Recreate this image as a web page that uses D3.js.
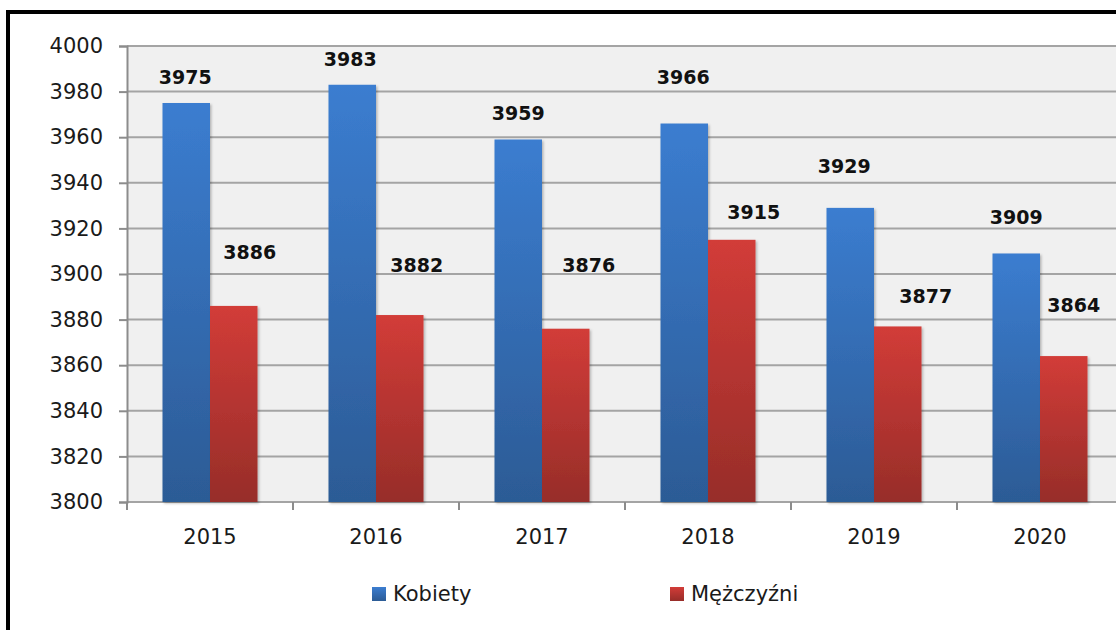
<!DOCTYPE html>
<html>
<head>
<meta charset="utf-8">
<script src="https://cdn.jsdelivr.net/npm/d3@7"></script>
<style>
  html, body { margin: 0; padding: 0; background: #fff; }
  svg { display: block; font-family: "DejaVu Sans", sans-serif; }
</style>
</head>
<body>
<svg id="chart" width="1116" height="630"></svg>
<script>
// data
const years = ['2015', '2016', '2017', '2018', '2019', '2020'];
const seriesNames = ['Kobiety', 'Mężczyźni'];
const kobiety = [3975, 3983, 3959, 3966, 3929, 3909];
const mezczyzni = [3886, 3882, 3876, 3915, 3877, 3864];
const yTicks = [3800, 3820, 3840, 3860, 3880, 3900, 3920, 3940, 3960, 3980, 4000];

// hand-placed label nudges (px), like the original chart
const labelNudge = [
  [[-1, -26], [-2, -26], [0, -26], [-1, -46], [-6, -42], [0, -36]],
  [[16, -54], [17, -50], [23, -64], [22, -28], [28, -30], [10, -51]]
];

const values = [kobiety, mezczyzni];
const colors = [
  { top: '#3b7dd0', bottom: '#2c5b95' },
  { top: '#d23c38', bottom: '#972d29' }
];

const svg = d3.select('#chart');
const plotLeft = 127, plotTop = 46, plotBottom = 502, step = 166;

// frame of the picture (extends past right/bottom edge)
svg.append('rect')
  .attr('x', 8).attr('y', 12)
  .attr('width', 1200).attr('height', 700)
  .attr('fill', 'none').attr('stroke', '#000').attr('stroke-width', 4);

const x = d3.scaleBand()
  .domain(years)
  .range([plotLeft, plotLeft + step * years.length])
  .padding(0);

const x1 = d3.scaleBand()
  .domain(seriesNames)
  .range([35.5, 130.5]);

const y = d3.scaleLinear()
  .domain([3800, 4000])
  .range([plotBottom, plotTop]);

// gradients
const defs = svg.append('defs');
colors.forEach(function (c, i) {
  let g = defs.append('linearGradient')
    .attr('id', 'grad' + i)
    .attr('x1', 0).attr('y1', 0).attr('x2', 0).attr('y2', 1);
  g.append('stop').attr('offset', '0%').attr('stop-color', c.top);
  g.append('stop').attr('offset', '100%').attr('stop-color', c.bottom);
});
let sh = defs.append('filter').attr('id', 'shadow')
  .attr('x', '-10%').attr('y', '-10%').attr('width', '130%').attr('height', '120%');
sh.append('feDropShadow')
  .attr('dx', 1.5).attr('dy', 1.5).attr('stdDeviation', 1.2)
  .attr('flood-color', '#000').attr('flood-opacity', 0.25);

// plot background
svg.append('rect')
  .attr('x', plotLeft).attr('y', plotTop)
  .attr('width', 1116 - plotLeft).attr('height', plotBottom - plotTop)
  .attr('fill', '#f0f0f0');

// y grid
svg.append('g').selectAll('line')
  .data(yTicks)
  .enter().append('line')
  .attr('x1', plotLeft).attr('x2', 1116)
  .attr('y1', function (d) { return y(d); })
  .attr('y2', function (d) { return y(d); })
  .attr('stroke', '#a4a4a4').attr('stroke-width', 2);

// y axis
const yAxis = svg.append('g')
  .attr('transform', 'translate(' + plotLeft + ',0)')
  .call(d3.axisLeft(y).tickValues(yTicks).tickFormat(d3.format('d')).tickSize(8).tickPadding(16));
yAxis.select('.domain').attr('stroke', '#8c8c8c').attr('stroke-width', 2);
yAxis.selectAll('.tick line').attr('stroke', '#8c8c8c').attr('stroke-width', 2);
yAxis.selectAll('.tick text')
  .attr('font-size', 21).attr('fill', '#1a1a1a')
  .attr('font-family', '"DejaVu Sans", sans-serif');

// x axis
const xAxis = svg.append('g')
  .attr('transform', 'translate(0,' + plotBottom + ')')
  .call(d3.axisBottom(x).tickSize(0).tickPadding(27));
xAxis.select('.domain').remove();
xAxis.selectAll('.tick text')
  .attr('font-size', 21).attr('fill', '#1a1a1a')
  .attr('font-family', '"DejaVu Sans", sans-serif');

svg.append('g').selectAll('line')
  .data(years)
  .enter().append('line')
  .attr('x1', function (d) { return x(d); })
  .attr('x2', function (d) { return x(d); })
  .attr('y1', plotBottom).attr('y2', plotBottom + 8)
  .attr('stroke', '#8c8c8c').attr('stroke-width', 2);

// bars
const groups = svg.append('g').selectAll('g')
  .data(years)
  .enter().append('g')
  .attr('transform', function (d) { return 'translate(' + x(d) + ',0)'; });

groups.selectAll('rect')
  .data(function (d, i) {
    return seriesNames.map(function (s, k) { return { s: s, k: k, v: values[k][i] }; });
  })
  .enter().append('rect')
  .attr('x', function (d) { return x1(d.s); })
  .attr('width', x1.bandwidth())
  .attr('y', function (d) { return y(d.v); })
  .attr('height', function (d) { return plotBottom - y(d.v); })
  .attr('fill', function (d) { return 'url(#grad' + d.k + ')'; })
  .attr('filter', 'url(#shadow)');

// value labels
groups.selectAll('text.val')
  .data(function (d, i) {
    return seriesNames.map(function (s, k) { return { s: s, k: k, v: values[k][i], n: labelNudge[k][i] }; });
  })
  .enter().append('text')
  .attr('class', 'val')
  .attr('x', function (d) { return x1(d.s) + x1.bandwidth() / 2 + d.n[0]; })
  .attr('y', function (d) { return y(d.v) + d.n[1]; })
  .attr('dy', '0.36em')
  .attr('text-anchor', 'middle')
  .attr('font-size', 19).attr('font-weight', 'bold').attr('fill', '#111')
  .text(function (d) { return d.v; });

// legend
const legend = svg.append('g').selectAll('g')
  .data(seriesNames)
  .enter().append('g')
  .attr('transform', function (d, i) { return 'translate(' + (372 + i * 298) + ',587)'; });
legend.append('rect')
  .attr('width', 14).attr('height', 14)
  .attr('fill', function (d, i) { return 'url(#grad' + i + ')'; });
legend.append('text')
  .attr('x', 21).attr('y', 14)
  .attr('font-size', 21).attr('fill', '#1a1a1a')
  .text(function (d) { return d; });
</script>
</body>
</html>
